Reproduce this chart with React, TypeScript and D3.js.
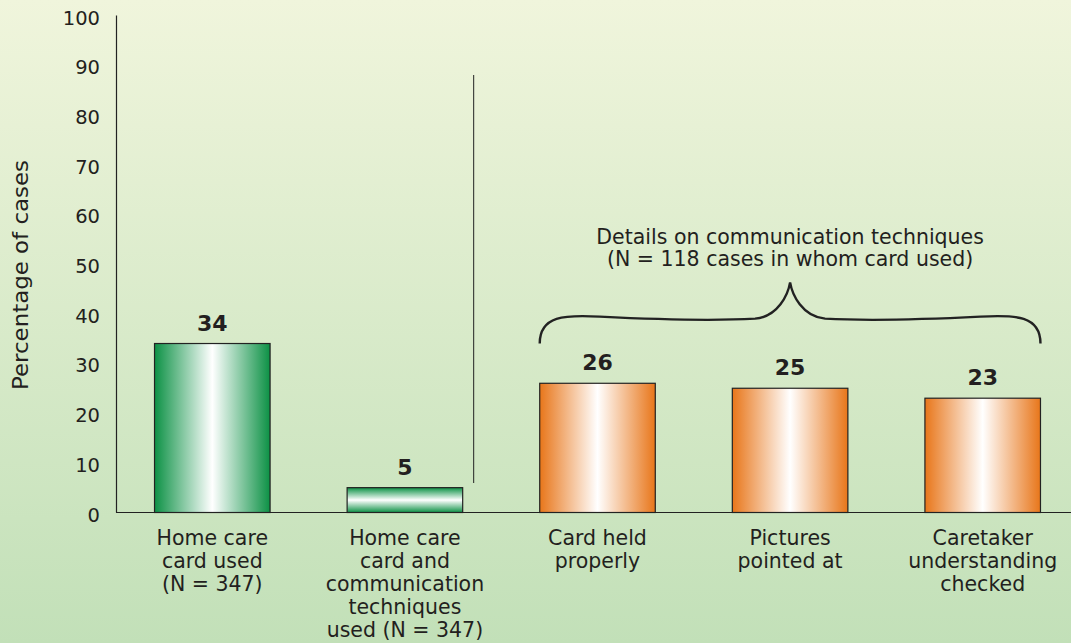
import React from "react";
import * as d3 from "d3";

const categories = ["c1", "c2", "c3", "c4", "c5"];
const values = [34, 5, 26, 25, 23];
const groups = ["green", "green", "orange", "orange", "orange"];
const categoryLabels = [
  ["Home care", "card used", "(N = 347)"],
  ["Home care", "card and", "communication", "techniques", "used (N = 347)"],
  ["Card held", "properly"],
  ["Pictures", "pointed at"],
  ["Caretaker", "understanding", "checked"],
];
const yTicks = [0, 10, 20, 30, 40, 50, 60, 70, 80, 90, 100];
const yTitle = "Percentage of cases";
const braceLines = ["Details on communication techniques", "(N = 118 cases in whom card used)"];

const W = 1071;
const H = 643;
const FONT = "'DejaVu Sans', 'Open Sans', sans-serif";

export default function App() {
  const x = d3.scaleBand<string>().domain(categories).range([116, 1079]).paddingInner(0.4).paddingOuter(0.2);
  const y = d3.scaleLinear().domain([0, 100]).range([512.5, 15.5]);
  const bw = x.bandwidth();

  const c3 = x(categories[2])!;
  const c5 = x(categories[4])! + bw;
  const tipX = x(categories[3])! + bw / 2;
  const endY = y(34);
  const midY = y(39);
  const tipY = y(46.3);
  const brace = `M${c3},${endY} C${c3},${midY - 3} ${c3 + 25},${midY - 4} ${c3 + 60},${midY - 2}
    C${c3 + 120},${midY + 1} ${tipX - 70},${midY + 2} ${tipX - 35},${midY}
    C${tipX - 12},${midY - 2} ${tipX - 2},${tipY + 12} ${tipX},${tipY}
    C${tipX + 2},${tipY + 12} ${tipX + 12},${midY - 2} ${tipX + 35},${midY}
    C${tipX + 70},${midY + 2} ${c5 - 120},${midY + 1} ${c5 - 60},${midY - 2}
    C${c5 - 25},${midY - 4} ${c5},${midY - 3} ${c5},${endY}`;

  const divX = x(categories[1])! + bw + 11;

  return (
    <svg width={W} height={H} style={{ position: "absolute", left: 0, top: 0 }} fontFamily={FONT}>
      <defs>
        <linearGradient id="bg" x1="0" y1="0" x2="0" y2="1">
          <stop offset="0" stopColor="#f0f5dc" />
          <stop offset="1" stopColor="#c2e0b8" />
        </linearGradient>
        <linearGradient id="gH" x1="0" y1="0" x2="1" y2="0">
          <stop offset="0" stopColor="#0c9145" />
          <stop offset="0.5" stopColor="#ffffff" />
          <stop offset="1" stopColor="#0c9145" />
        </linearGradient>
        <linearGradient id="gV" x1="0" y1="0" x2="0" y2="1">
          <stop offset="0" stopColor="#0c9145" />
          <stop offset="0.5" stopColor="#ffffff" />
          <stop offset="1" stopColor="#0c9145" />
        </linearGradient>
        <linearGradient id="oH" x1="0" y1="0" x2="1" y2="0">
          <stop offset="0" stopColor="#e8761a" />
          <stop offset="0.5" stopColor="#ffffff" />
          <stop offset="1" stopColor="#e8761a" />
        </linearGradient>
      </defs>
      <rect x={0} y={0} width={W} height={H} fill="url(#bg)" />

      {/* y axis */}
      <line x1={116.5} x2={116.5} y1={y(100)} y2={y(0)} stroke="#222" strokeWidth={1.2} />
      {yTicks.map((t) => (
        <text key={t} x={100} y={y(t) + 9} textAnchor="end" fontSize={19.5} fill="#231f20">
          {t}
        </text>
      ))}
      <text
        transform={`translate(21,${275}) rotate(-90)`}
        textAnchor="middle"
        dy="0.35em"
        fontSize={21}
        fill="#231f20"
        textLength={230}
        lengthAdjust="spacingAndGlyphs"
      >
        {yTitle}
      </text>

      {/* bars */}
      {values.map((v, i) => {
        const bx = x(categories[i])!;
        const fill = groups[i] === "orange" ? "url(#oH)" : v < 10 ? "url(#gV)" : "url(#gH)";
        return (
          <g key={i}>
            <rect x={bx} y={y(v)} width={bw} height={y(0) - y(v)} fill={fill} stroke="#222" strokeWidth={1.2} />
            <text x={bx + bw / 2} y={y(v) - 13} textAnchor="middle" fontSize={22} fontWeight={700} fill="#231f20">
              {v}
            </text>
          </g>
        );
      })}

      {/* baseline */}
      <line x1={116} x2={W} y1={y(0)} y2={y(0)} stroke="#222" strokeWidth={1.2} />

      {/* divider */}
      <line x1={divX} x2={divX} y1={75} y2={483} stroke="#222" strokeWidth={1} />

      {/* x labels */}
      {categoryLabels.map((lines, i) => (
        <text key={i} textAnchor="middle" fontSize={20.5} fill="#231f20">
          {lines.map((l, j) => (
            <tspan key={j} x={x(categories[i])! + bw / 2} y={545 + j * 23}>
              {l}
            </tspan>
          ))}
        </text>
      ))}

      {/* brace */}
      <path d={brace} fill="none" stroke="#222" strokeWidth={2.4} />
      {braceLines.map((l, j) => (
        <text key={j} x={tipX} y={244 + j * 22} textAnchor="middle" fontSize={20.5} fill="#231f20">
          {l}
        </text>
      ))}
    </svg>
  );
}
